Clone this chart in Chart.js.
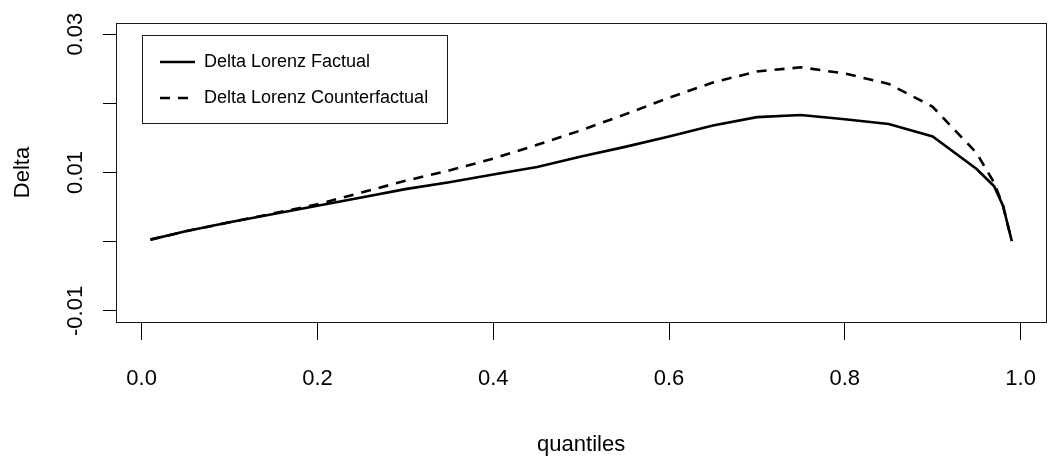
<!DOCTYPE html>
<html>
<head>
<meta charset="utf-8">
<script src="https://cdn.jsdelivr.net/npm/chart.js@4/dist/chart.umd.min.js"></script>
<style>
  html, body { margin: 0; padding: 0; background: #fff; overflow: hidden; }
  #wrap { width: 1052px; height: 463px; overflow: hidden; position: relative; background: #fff; }
  canvas { display: block; }
</style>
</head>
<body>
<div id="wrap"><canvas id="c" width="1062" height="463" style="width:1062px;height:463px"></canvas></div>
<script>
// ---- data ----
const quantiles = [0.01, 0.05, 0.10, 0.15, 0.20, 0.25, 0.30, 0.35, 0.40, 0.45, 0.50, 0.55,
                   0.60, 0.65, 0.70, 0.75, 0.80, 0.85, 0.90, 0.95, 0.97, 0.98, 0.99];
const factual = [0.0003, 0.0015, 0.0028, 0.0040, 0.0052, 0.0064, 0.0076, 0.0086, 0.0097, 0.0108, 0.0123, 0.0137,
                 0.0152, 0.0168, 0.0180, 0.0183, 0.0177, 0.0170, 0.0152, 0.0105, 0.0080, 0.0052, 0.0001];
const counterfactual = [0.0003, 0.0015, 0.0028, 0.0041, 0.0054, 0.0071, 0.0088, 0.0103, 0.0120, 0.0140, 0.0161, 0.0184,
                        0.0208, 0.0230, 0.0246, 0.0252, 0.0243, 0.0228, 0.0195, 0.0128, 0.0085, 0.0052, 0.0001];
const seriesNames = ['Delta Lorenz Factual', 'Delta Lorenz Counterfactual'];
const xTicks = [0, 0.2, 0.4, 0.6, 0.8, 1.0];
const xTickLabels = ['0.0', '0.2', '0.4', '0.6', '0.8', '1.0'];
const yTicks = [-0.01, 0, 0.01, 0.02, 0.03];
const yTickLabels = ['-0.01', '', '0.01', '', '0.03'];
const xTitle = 'quantiles';
const yTitle = 'Delta';

// ---- chart ----
const FONT = "'Liberation Sans', Arial, Helvetica, sans-serif";
Chart.defaults.font.family = FONT;
Chart.defaults.color = '#000';

const LEGEND_BOX = { left: 142, top: 35, width: 305, height: 88 };

const legendPlace = {
  id: 'legendPlace',
  afterLayout(chart) {
    const L = chart.legend;
    if (!L) return;
    L.left = LEGEND_BOX.left;
    L.top = LEGEND_BOX.top;
    L.width = LEGEND_BOX.width;
    L.height = LEGEND_BOX.height + 60;
    L.right = L.left + L.width;
    L.bottom = L.top + L.height;
  }
};

const frame = {
  id: 'frame',
  afterDraw(chart) {
    const ctx = chart.ctx;
    const a = chart.chartArea;
    ctx.save();
    ctx.strokeStyle = '#1a1a1a';
    ctx.lineWidth = 1;
    ctx.strokeRect(Math.round(a.left) + 0.5, Math.round(a.top) + 0.5,
                   Math.round(a.right - a.left), Math.round(a.bottom - a.top));
    ctx.strokeRect(LEGEND_BOX.left + 0.5, LEGEND_BOX.top + 0.5, LEGEND_BOX.width, LEGEND_BOX.height);
    ctx.restore();
  }
};

const toPoints = (vals) => quantiles.map((q, i) => ({ x: q, y: vals[i] }));

new Chart(document.getElementById('c'), {
  type: 'line',
  data: {
    datasets: [
      {
        label: seriesNames[0],
        data: toPoints(factual),
        borderColor: '#000',
        backgroundColor: '#000',
        borderWidth: 2.6,
        pointRadius: 0,
        tension: 0,
        fill: false
      },
      {
        label: seriesNames[1],
        data: toPoints(counterfactual),
        borderColor: '#000',
        backgroundColor: '#000',
        borderWidth: 2.6,
        borderDash: [10, 8],
        pointRadius: 0,
        tension: 0,
        fill: false
      }
    ]
  },
  options: {
    responsive: false,
    animation: false,
    devicePixelRatio: 1,
    layout: { padding: { left: 0, top: 23, right: 5, bottom: 0 } },
    plugins: {
      tooltip: { enabled: false },
      legend: {
        display: true,
        position: 'chartArea',
        align: 'start',
        labels: {
          usePointStyle: true,
          pointStyle: 'line',
          pointStyleWidth: 35,
          padding: 18,
          color: '#000',
          font: { size: 18, family: FONT },
          generateLabels: (chart) => {
            const items = Chart.defaults.plugins.legend.labels.generateLabels(chart);
            items.forEach((it) => {
              const ds = chart.data.datasets[it.datasetIndex];
              it.lineWidth = ds.borderWidth;
              it.lineDash = ds.borderDash || [];
              it.strokeStyle = ds.borderColor;
              it.pointStyle = 'line';
            });
            return items;
          }
        }
      }
    },
    scales: {
      x: {
        type: 'linear',
        min: -0.0292,
        max: 1.0292,
        afterBuildTicks: (s) => { s.ticks = xTicks.map(v => ({ value: v })); },
        afterFit: (s) => { s.height = 141; },
        ticks: {
          autoSkip: false, maxRotation: 0, minRotation: 0, padding: 26,
          color: '#000', font: { size: 22, family: FONT },
          callback: (v, i) => xTickLabels[i]
        },
        grid: { display: true, drawOnChartArea: false, drawTicks: true, tickLength: 18, color: '#000', lineWidth: 1 },
        border: { display: false },
        title: { display: true, text: xTitle, color: '#000', font: { size: 22, family: FONT }, padding: { top: 0, bottom: 5 } }
      },
      y: {
        type: 'linear',
        min: -0.0116,
        max: 0.0316,
        afterBuildTicks: (s) => { s.ticks = yTicks.map(v => ({ value: v })); },
        afterFit: (s) => { s.width = 116; },
        ticks: {
          autoSkip: false, minRotation: 90, maxRotation: 90, crossAlign: 'center', padding: 2,
          color: '#000', font: { size: 22, family: FONT },
          callback: (v, i) => yTickLabels[i]
        },
        grid: { display: true, drawOnChartArea: false, drawTicks: true, tickLength: 13, color: '#000', lineWidth: 1 },
        border: { display: false },
        title: { display: true, text: yTitle, color: '#000', font: { size: 22, family: FONT }, padding: { top: 10, bottom: 0 } }
      }
    }
  },
  plugins: [legendPlace, frame]
});
</script>
</body>
</html>
